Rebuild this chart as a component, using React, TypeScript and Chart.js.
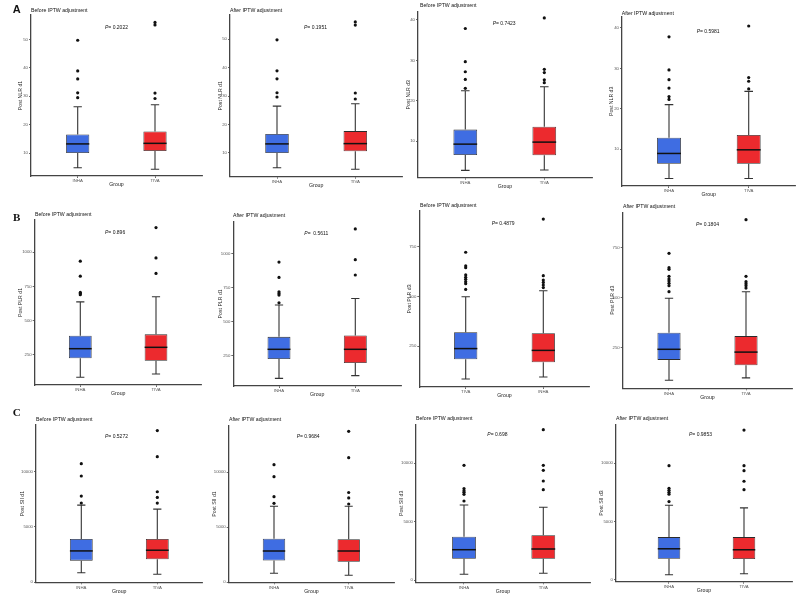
import React, { useEffect, useRef } from 'react';
import { Chart, registerables } from 'chart.js';

Chart.register(...registerables);

const FONT = '"Liberation Sans", Arial, sans-serif';
const SERIF = '"Liberation Serif", "Times New Roman", serif';
const BLUE = '#3F6DE2';
const RED = '#EC2A2E';

// ---------- text / categories ----------
const groupsStd = ['INHA', 'TIVA'];
const groupsRev = ['TIVA', 'INHA'];
const panelTitles = ['Before IPTW adjustment', 'After IPTW adjustment'];
const yTitles = ['Post NLR d1', 'Post NLR d3', 'Post PLR d1', 'Post PLR d3', 'Post SII d1', 'Post SII d3'];
const pValues = ['0.2022', '0.1951', '0.7423', '0.5981', '0.896', ' 0.5611', '0.4879', '0.1804', '0.5272', '0.9684', '0.698', '0.9853'];
const rowLabels = ['A', 'B', 'C'];

// ---------- tick labels ----------
const nlrD1Ticks = [10, 20, 30, 40, 50];
const nlrD3Ticks = [10, 20, 30, 40];
const plrD1Ticks = [250, 500, 750, 1000];
const plrD3Ticks = [250, 500, 750];
const siiTicks = [0, 5000, 10000];

// ---------- box statistics: [lower whisker, Q1, median, Q3, upper whisker] per group ----------
const nlrD1BeforeStats = [[4.8, 10.0, 13.2, 16.5, 26.3], [4.3, 10.7, 13.4, 17.6, 27.0]];
const nlrD1BeforeOutliers = [[49.7, 38.9, 36.1, 31.2, 29.5], [56.0, 55.1, 31.1, 29.2]];
const nlrD1AfterStats = [[4.8, 10.0, 13.2, 16.7, 26.5], [4.3, 10.6, 13.3, 17.7, 27.3]];
const nlrD1AfterOutliers = [[49.8, 38.9, 36.1, 31.2, 29.7], [56.1, 55.0, 31.1, 29.0]];
const nlrD3BeforeStats = [[2.8, 6.6, 9.3, 12.9, 22.5], [2.9, 6.55, 9.8, 13.6, 23.5]];
const nlrD3BeforeOutliers = [[37.9, 29.7, 27.2, 25.3, 23.1], [40.5, 27.8, 27.0, 25.2, 24.5]];
const nlrD3AfterStats = [[2.7, 6.35, 8.9, 12.8, 21.0], [2.7, 6.35, 9.8, 13.5, 24.3]];
const nlrD3AfterOutliers = [[37.8, 29.6, 27.2, 25.1, 23.0, 22.3], [40.5, 27.7, 26.8, 24.9]];

const plrD1BeforeStats = [[85, 224, 294, 389, 637], [109, 206, 304, 399, 674]];
const plrD1BeforeOutliers = [[935, 825, 706, 699, 689], [1181, 959, 845]];
const plrD1AfterStats = [[83, 226, 297, 389, 624], [103, 196, 297, 399, 672]];
const plrD1AfterOutliers = [[940, 827, 721, 709, 697, 640], [1185, 958, 845]];
const plrD3BeforeStats = [[84, 183, 237, 319, 498], [94, 168, 228, 314, 528]];
const plrD3BeforeOutliers = [[722, 653, 644, 608, 596, 586, 574, 564, 535], [889, 604, 582, 570, 557, 544]];
const plrD3AfterStats = [[87, 189, 242, 325, 497], [99, 162, 228, 308, 530]];
const plrD3AfterOutliers = [[722, 650, 642, 607, 594, 584, 572, 560, 530], [890, 607, 580, 570, 560, 548]];

const siiD1BeforeStats = [[845, 1936, 2818, 3909, 6973], [700, 2064, 2882, 3909, 6609]];
const siiD1BeforeOutliers = [[10727, 9609, 7791, 7155], [13727, 11364, 8182, 7664, 7155]];
const siiD1AfterStats = [[818, 1985, 2845, 3955, 6909], [636, 1873, 2845, 3909, 6909]];
const siiD1AfterOutliers = [[10690, 9600, 7782, 7182], [13727, 11327, 8164, 7673, 7118]];
const siiD3BeforeStats = [[513, 1846, 2615, 3726, 6436], [598, 1846, 2675, 3846, 6239]];
const siiD3BeforeOutliers = [[9829, 7838, 7658, 7521, 7350, 6778], [12872, 9829, 9402, 8487, 7744]];
const siiD3AfterStats = [[453, 1821, 2675, 3675, 6410], [538, 1795, 2590, 3675, 6182]];
const siiD3AfterOutliers = [[9795, 7863, 7692, 7521, 7350, 6718], [12846, 9795, 9368, 8462, 7744]];

// ---------- layout (page pixel geometry of each panel frame) ----------
const COLS = [[0, 205], [198, 405], [398, 600], [598, 798]];
const ROWS = [[0, 202], [196, 402], [396, 597]];

const panelLayouts = [
  { axisX: 31, top: 15, bottom: 176, right: 202, c1: 77.7, c2: 155, yMin: 1.9, yMax: 58.6, yTitleX: 21, titleX: 31, titleY: 10.7, pX: 105, pY: 27.7 },
  { axisX: 230, top: 15, bottom: 176.7, right: 402.3, c1: 277, c2: 355.3, yMin: 1.66, yMax: 58.55, yTitleX: 220.7, titleX: 230, titleY: 10.7, pX: 304, pY: 27.7 },
  { axisX: 418, top: 11.7, bottom: 177.7, right: 592, c1: 465.3, c2: 544.3, yMin: 1.0, yMax: 42.05, yTitleX: 408.3, titleX: 420, titleY: 5.3, pX: 492.7, pY: 23.3 },
  { axisX: 622, top: 16.7, bottom: 186, right: 795.5, c1: 669, c2: 748.7, yMin: 0.83, yMax: 42.8, yTitleX: 612, titleX: 621.7, titleY: 14, pX: 696.7, pY: 31.7 },
  { axisX: 34.7, top: 220, bottom: 385, right: 201.7, c1: 80.3, c2: 156, yMin: 28, yMax: 1236.6, yTitleX: 21, titleX: 35, titleY: 215, pX: 105, pY: 232.3 },
  { axisX: 233.3, top: 221.7, bottom: 386, right: 401, c1: 279, c2: 355.3, yMin: 26.5, yMax: 1238, yTitleX: 221, titleX: 233, titleY: 215.7, pX: 304.3, pY: 233.3 },
  { axisX: 419.3, top: 211, bottom: 387, right: 589.6, c1: 465.7, c2: 543.3, yMin: 43.6, yMax: 929.8, yTitleX: 409.3, titleX: 420, titleY: 205.7, pX: 491.7, pY: 224 },
  { axisX: 622.7, top: 212.3, bottom: 388.3, right: 792.3, c1: 669, c2: 746, yMin: 47, yMax: 927, yTitleX: 612.3, titleX: 623, titleY: 206.7, pX: 696, pY: 225 },
  { axisX: 36, top: 425, bottom: 582.3, right: 202.4, c1: 81.3, c2: 157.3, yMin: -27, yMax: 14234, yTitleX: 22.3, titleX: 36, titleY: 419.3, pX: 105, pY: 436.3 },
  { axisX: 228.7, top: 425.7, bottom: 582.3, right: 394.3, c1: 274, c2: 348.7, yMin: 0, yMax: 14236, yTitleX: 214.7, titleX: 229, titleY: 419.7, pX: 296.7, pY: 437 },
  { axisX: 416, top: 424.3, bottom: 582.3, right: 590, c1: 464, c2: 543.3, yMin: -171, yMax: 13333, yTitleX: 401.7, titleX: 416, titleY: 418.3, pX: 487.3, pY: 434.7 },
  { axisX: 616, top: 424.3, bottom: 581.7, right: 792, c1: 669, c2: 744, yMin: -146, yMax: 13342, yTitleX: 601.7, titleX: 616, titleY: 418.3, pX: 689, pY: 435 },
];

const panelData = [
  { stats: nlrD1BeforeStats, outliers: nlrD1BeforeOutliers, ticks: nlrD1Ticks, yTitle: yTitles[0], groups: groupsStd },
  { stats: nlrD1AfterStats, outliers: nlrD1AfterOutliers, ticks: nlrD1Ticks, yTitle: yTitles[0], groups: groupsStd },
  { stats: nlrD3BeforeStats, outliers: nlrD3BeforeOutliers, ticks: nlrD3Ticks, yTitle: yTitles[1], groups: groupsStd },
  { stats: nlrD3AfterStats, outliers: nlrD3AfterOutliers, ticks: nlrD3Ticks, yTitle: yTitles[1], groups: groupsStd },
  { stats: plrD1BeforeStats, outliers: plrD1BeforeOutliers, ticks: plrD1Ticks, yTitle: yTitles[2], groups: groupsStd },
  { stats: plrD1AfterStats, outliers: plrD1AfterOutliers, ticks: plrD1Ticks, yTitle: yTitles[2], groups: groupsStd },
  { stats: plrD3BeforeStats, outliers: plrD3BeforeOutliers, ticks: plrD3Ticks, yTitle: yTitles[3], groups: groupsRev },
  { stats: plrD3AfterStats, outliers: plrD3AfterOutliers, ticks: plrD3Ticks, yTitle: yTitles[3], groups: groupsStd },
  { stats: siiD1BeforeStats, outliers: siiD1BeforeOutliers, ticks: siiTicks, yTitle: yTitles[4], groups: groupsStd },
  { stats: siiD1AfterStats, outliers: siiD1AfterOutliers, ticks: siiTicks, yTitle: yTitles[4], groups: groupsStd },
  { stats: siiD3BeforeStats, outliers: siiD3BeforeOutliers, ticks: siiTicks, yTitle: yTitles[5], groups: groupsStd },
  { stats: siiD3AfterStats, outliers: siiD3AfterOutliers, ticks: siiTicks, yTitle: yTitles[5], groups: groupsStd },
];

const BH = 12; // x-scale height (ticks + labels + title)
const TITLE_HALF = 3.1;

function Panel({ index }: { index: number }) {
  const ref = useRef<HTMLCanvasElement>(null);
  const L = panelLayouts[index];
  const D = panelData[index];
  const row = Math.floor(index / 4);
  const col = index % 4;
  const cx = COLS[col][0];
  const cw = COLS[col][1] - COLS[col][0];
  const cy = ROWS[row][0];
  const ch = ROWS[row][1] - ROWS[row][0];

  useEffect(() => {
    const canvas = ref.current!;
    const LW = L.axisX - L.yTitleX + TITLE_HALF;
    const spacing = L.c2 - L.c1;
    const xMin = 1 - (L.c1 - L.axisX) / spacing;
    const xMax = 2 + (L.right - L.c2) / spacing;
    const title = panelTitles[col % 2];
    const pText = pValues[index];

    const outlierPoints: { x: number; y: number }[] = [];
    D.outliers.forEach((arr, gi) => arr.forEach((v) => outlierPoints.push({ x: gi + 1, y: v })));

    const extras = {
      id: 'boxExtras',
      afterDatasetsDraw(chart: any) {
        const { ctx } = chart;
        const xs = chart.scales.x;
        const ys = chart.scales.y;
        const boxHalf = ((xs.getPixelForValue(2) - xs.getPixelForValue(1)) * 0.3) / 2;
        const capHalf = boxHalf * 0.36;
        ctx.save();
        D.stats.forEach((s, i) => {
          const px = xs.getPixelForValue(i + 1);
          ctx.strokeStyle = '#333';
          ctx.lineWidth = 1.1;
          ctx.beginPath();
          ctx.moveTo(px, ys.getPixelForValue(s[3]));
          ctx.lineTo(px, ys.getPixelForValue(s[4]));
          ctx.moveTo(px, ys.getPixelForValue(s[1]));
          ctx.lineTo(px, ys.getPixelForValue(s[0]));
          ctx.moveTo(px - capHalf, ys.getPixelForValue(s[4]));
          ctx.lineTo(px + capHalf, ys.getPixelForValue(s[4]));
          ctx.moveTo(px - capHalf, ys.getPixelForValue(s[0]));
          ctx.lineTo(px + capHalf, ys.getPixelForValue(s[0]));
          ctx.stroke();
          ctx.strokeStyle = '#111';
          ctx.lineWidth = 1.5;
          ctx.beginPath();
          ctx.moveTo(px - boxHalf, ys.getPixelForValue(s[2]));
          ctx.lineTo(px + boxHalf, ys.getPixelForValue(s[2]));
          ctx.stroke();
        });
        ctx.restore();
      },
      afterDraw(chart: any) {
        const { ctx } = chart;
        ctx.save();
        ctx.fillStyle = '#111';
        ctx.textBaseline = 'middle';
        ctx.textAlign = 'left';
        ctx.font = `5.2px ${FONT}`;
        ctx.fillText(title, L.titleX - cx, L.titleY - cy);
        ctx.font = `italic 5px ${FONT}`;
        ctx.fillText('P', L.pX - cx, L.pY - cy);
        const w = ctx.measureText('P').width;
        ctx.font = `5px ${FONT}`;
        ctx.fillText('= ' + pText, L.pX - cx + w, L.pY - cy);
        if (col === 0) {
          const lbl = rowLabels[row];
          ctx.textAlign = 'center';
          ctx.font = row === 0 ? `bold 11px ${FONT}` : `bold 11px ${SERIF}`;
          const ly = [10, 217.7, 413][row];
          ctx.fillText(lbl, 16.6 - cx, ly - cy);
        }
        ctx.restore();
      },
    };

    const tickFont = { family: FONT, size: 4.3 };
    const titleFont = { family: FONT, size: 5.2 };

    const chart = new Chart(canvas, {
      type: 'bar',
      data: {
        datasets: [
          {
            type: 'scatter',
            data: outlierPoints,
            pointRadius: 1.6,
            pointBackgroundColor: '#111',
            pointBorderWidth: 0,
            order: 0,
          } as any,
          {
            type: 'bar',
            data: D.stats.map((s, i) => ({ x: i + 1, y: [s[1], s[3]] })),
            backgroundColor: [BLUE, RED],
            borderColor: '#2b2b2b',
            borderWidth: 0.8,
            borderSkipped: false,
            barPercentage: 0.3,
            categoryPercentage: 1,
            order: 1,
          } as any,
        ],
      },
      options: {
        responsive: false,
        animation: false,
        devicePixelRatio: 1,
        events: [],
        layout: {
          autoPadding: false,
          padding: {
            left: L.yTitleX - TITLE_HALF - cx,
            top: L.top - cy,
            right: cx + cw - L.right,
            bottom: cy + ch - L.bottom - BH,
          },
        },
        plugins: {
          legend: { display: false },
          tooltip: { enabled: false },
          title: { display: false },
        },
        scales: {
          x: {
            type: 'linear',
            min: xMin,
            max: xMax,
            offset: false,
            bounds: 'data',
            afterBuildTicks: (s: any) => {
              s.ticks = [{ value: 1 }, { value: 2 }];
            },
            afterFit: (s: any) => {
              s.height = BH;
              s.paddingLeft = 0;
              s.paddingRight = 0;
              s.paddingTop = 0;
              s.paddingBottom = 0;
            },
            ticks: {
              callback: (_v: any, i: number) => D.groups[i],
              font: tickFont,
              color: '#555',
              padding: 0.5,
              maxRotation: 0,
              autoSkip: false,
            },
            grid: { display: true, drawOnChartArea: false, drawTicks: true, tickLength: 2, color: '#444', lineWidth: 0.8, offset: false },
            border: { display: true, color: '#444', width: 1.3 },
            title: { display: true, text: 'Group', font: titleFont, color: '#222', padding: 0 },
          },
          y: {
            type: 'linear',
            min: L.yMin,
            max: L.yMax,
            bounds: 'data',
            beginAtZero: false,
            afterBuildTicks: (s: any) => {
              s.ticks = D.ticks.map((v) => ({ value: v }));
            },
            afterFit: (s: any) => {
              s.width = LW;
              s.paddingLeft = 0;
              s.paddingRight = 0;
              s.paddingTop = 0;
              s.paddingBottom = 0;
            },
            ticks: {
              callback: (v: any) => String(v),
              font: tickFont,
              color: '#555',
              padding: 1,
              autoSkip: false,
            },
            grid: { display: true, drawOnChartArea: false, drawTicks: true, tickLength: 2, color: '#444', lineWidth: 0.8 },
            border: { display: true, color: '#444', width: 1.3 },
            title: { display: true, text: D.yTitle, font: titleFont, color: '#222', padding: 0 },
          },
        },
      } as any,
      plugins: [extras],
    });
    return () => chart.destroy();
  }, [index]);

  return (
    <canvas
      ref={ref}
      width={cw}
      height={ch}
      style={{ position: 'absolute', left: cx, top: cy, width: cw, height: ch }}
    />
  );
}

export default function App() {
  return (
    <div style={{ position: 'absolute', left: 0, top: 0, width: 798, height: 597, background: '#fff', overflow: 'hidden' }}>
      {panelLayouts.map((_, i) => (
        <Panel key={i} index={i} />
      ))}
    </div>
  );
}
